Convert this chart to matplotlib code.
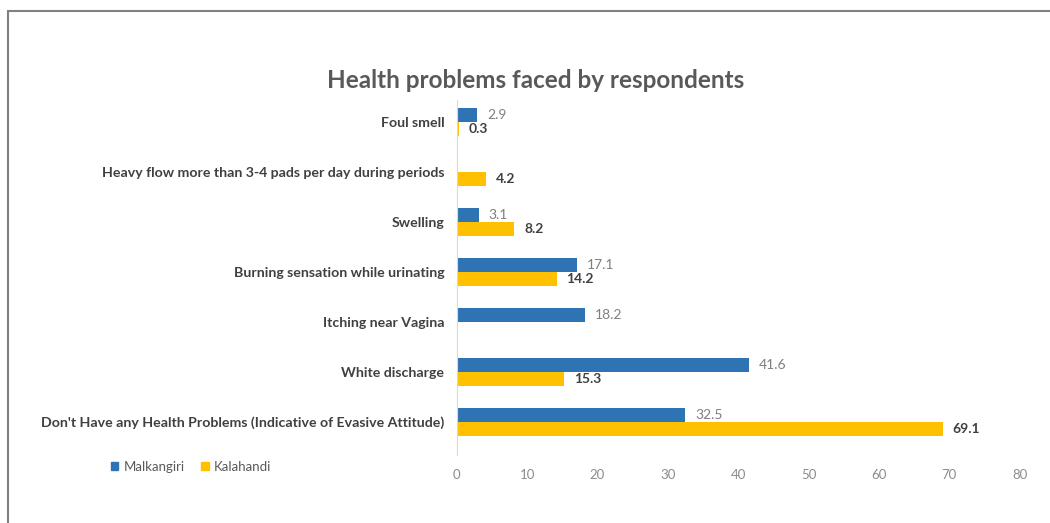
import matplotlib.pyplot as plt
from matplotlib.patches import Patch, Rectangle
import numpy


# Data (top to bottom, as drawn)
CATEGORIES = [
    'Foul smell',
    'Heavy flow more than 3-4 pads per day during periods',
    'Swelling',
    'Burning sensation while urinating',
    'Itching near Vagina',
    'White discharge',
    "Don't Have any Health Problems (Indicative of Evasive Attitude)",
]
MALKANGIRI = [2.9, None, 3.1, 17.1, 18.2, 41.6, 32.5]
KALAHANDI = [0.3, 4.2, 8.2, 14.2, None, 15.3, 69.1]
X_TICKS = [0, 10, 20, 30, 40, 50, 60, 70, 80]

BLUE = '#2E74B5'
YELLOW = '#FFC000'
FONT = ['Lato', 'DejaVu Sans']

plt.rcParams['font.family'] = FONT

fig = plt.figure(figsize=(10.5, 5.23), dpi=100)
ax = fig.add_axes([0.435, 0.130, 0.536, 0.679])

barHeight = 0.28
positions = numpy.arange(len(CATEGORIES))


def drawSeries(values, offset, color, labelColor, labelWeight):
    for pos, value in zip(positions, values):
        if value is None:
            continue
        ax.barh(pos + offset, value, height=barHeight, color=color)
        ax.annotate(f'{value:.1f}', (value, pos + offset), xytext=(7, 0),
                    textcoords='offset points', va='center', ha='left',
                    fontsize=10, color=labelColor, fontweight=labelWeight)


drawSeries(MALKANGIRI, -barHeight / 2, BLUE, '#7f7f7f', 'normal')
drawSeries(KALAHANDI, barHeight / 2, YELLOW, '#404040', 'bold')

ax.set_ylim(len(CATEGORIES) - 1 + 0.66, -0.44)
ax.set_xlim(0, 80)
ax.set_xticks(X_TICKS)
ax.set_xticklabels([str(t) for t in X_TICKS], color='#8c8c8c', fontsize=9.5)
ax.set_yticks(positions)
ax.set_yticklabels(CATEGORIES, color='#404040', fontsize=10.2, fontweight='bold')
ax.tick_params(axis='both', length=0)
ax.tick_params(axis='y', pad=9)
ax.tick_params(axis='x', pad=10)

for side in ['top', 'right', 'bottom']:
    ax.spines[side].set_visible(False)
ax.spines['left'].set_color('#d9d9d9')

fig.text(0.51, 0.846, 'Health problems faced by respondents', ha='center',
         va='center', fontsize=17.5, fontweight='bold', color='#595959')

handles = [Patch(color=BLUE, label='Malkangiri'), Patch(color=YELLOW, label='Kalahandi')]
leg = fig.legend(handles=handles, loc='center left', bbox_to_anchor=(0.094, 0.108),
                 ncol=2, frameon=False, handlelength=0.6, handleheight=0.6,
                 handletextpad=0.4, columnspacing=1.2, fontsize=9.5)
for text in leg.get_texts():
    text.set_color('#595959')

# Outer frame (runs off the right and bottom edges like the source)
fig.patches.append(Rectangle((0.008, -0.1), 1.2, 1.079, transform=fig.transFigure,
                             fill=False, edgecolor='#808080', linewidth=1.5))

fig.savefig('out.png', dpi=100)
